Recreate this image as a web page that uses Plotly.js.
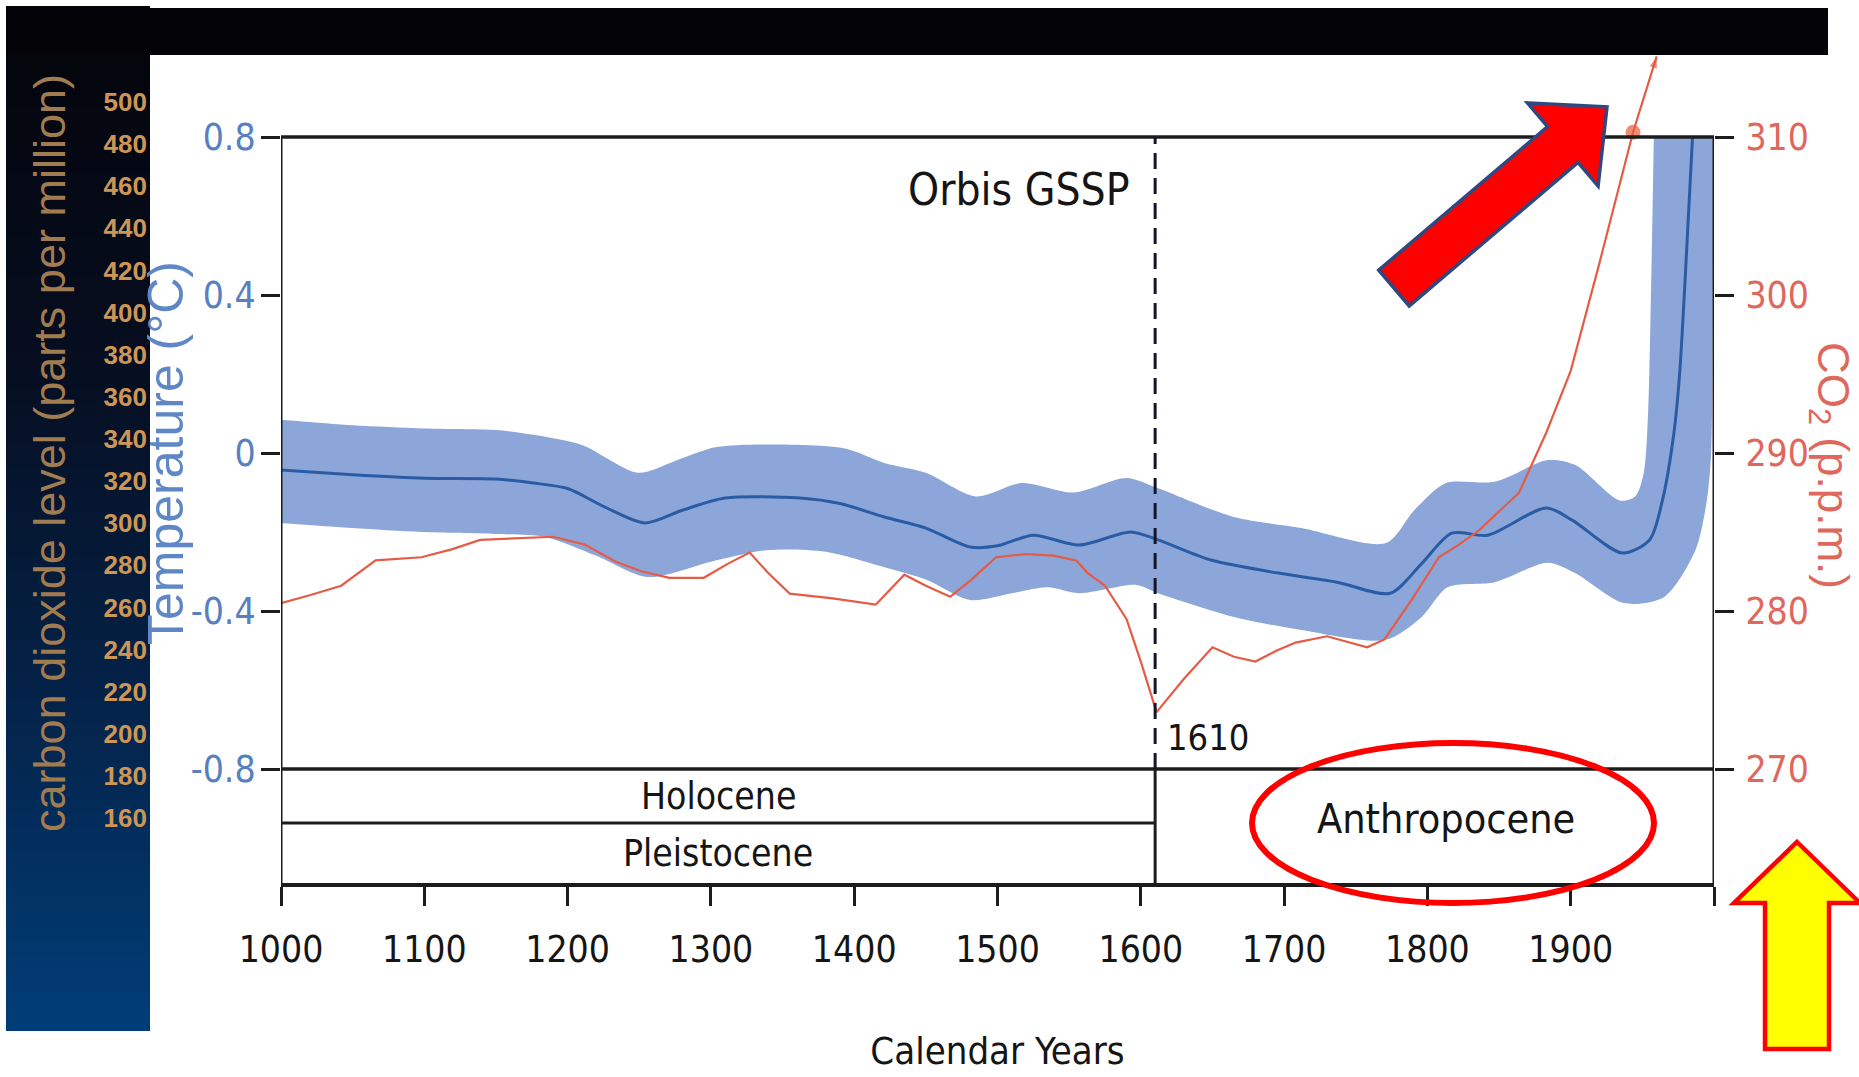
<!DOCTYPE html>
<html>
<head>
<meta charset="utf-8">
<script src="https://cdn.plot.ly/plotly-3.0.1.min.js"></script>
<style>
  html, body { margin: 0; padding: 0; background: #ffffff; }
  #chart { width: 1859px; height: 1077px; }
</style>
</head>
<body>
<div id="chart"></div>
<script>
// ---------------- DATA ----------------
// Temperature anomaly, central estimate (°C)
const tempYears = [1000, 1050, 1100, 1150, 1176, 1200, 1225, 1254, 1280, 1310, 1362, 1390, 1421, 1450, 1481, 1500, 1525, 1557, 1593, 1612, 1649, 1696, 1737, 1774, 1796, 1817, 1842, 1883, 1901, 1936, 1955, 1964, 1972, 1976, 1980, 1985];
const tempMid   = [-0.043, -0.055, -0.064, -0.066, -0.076, -0.09, -0.135, -0.177, -0.145, -0.114, -0.114, -0.128, -0.162, -0.19, -0.238, -0.235, -0.208, -0.233, -0.2, -0.22, -0.271, -0.304, -0.327, -0.355, -0.28, -0.203, -0.208, -0.139, -0.17, -0.253, -0.22, -0.12, 0.05, 0.2, 0.45, 0.8];

// Uncertainty band, upper edge (°C)
const bandUpYears = [1000, 1050, 1100, 1150, 1176, 1210, 1249, 1275, 1304, 1365, 1395, 1421, 1450, 1485, 1517, 1553, 1590, 1612, 1665, 1712, 1771, 1791, 1813, 1847, 1884, 1903, 1934, 1945, 1951, 1954, 1956, 1958];
const bandUp      = [0.084, 0.07, 0.062, 0.058, 0.046, 0.02, -0.05, -0.02, 0.015, 0.02, 0.01, -0.025, -0.05, -0.11, -0.076, -0.1, -0.063, -0.089, -0.162, -0.19, -0.228, -0.144, -0.076, -0.073, -0.018, -0.03, -0.12, -0.11, -0.05, 0.1, 0.4, 0.8];

// Uncertainty band, lower edge (°C)
const bandLoYears = [1000, 1050, 1098, 1150, 1185, 1220, 1256, 1300, 1339, 1380, 1421, 1450, 1481, 1510, 1535, 1557, 1597, 1612, 1665, 1712, 1771, 1796, 1814, 1847, 1884, 1903, 1937, 1965, 1987, 1995, 1998, 1999, 1999.5];
const bandLo      = [-0.177, -0.19, -0.2, -0.205, -0.213, -0.26, -0.314, -0.275, -0.246, -0.25, -0.289, -0.32, -0.372, -0.355, -0.34, -0.355, -0.334, -0.355, -0.415, -0.448, -0.473, -0.415, -0.34, -0.327, -0.278, -0.304, -0.38, -0.365, -0.246, -0.12, 0.0, 0.3, 0.8];

// Atmospheric CO2 (p.p.m.)
const co2Years = [1000, 1020, 1042, 1066, 1098, 1119, 1139, 1165, 1190, 1212, 1234, 1252, 1271, 1295, 1312, 1327, 1340, 1355, 1385, 1415, 1435, 1450, 1467, 1482, 1499, 1520, 1539, 1555, 1563, 1575, 1590, 1600, 1611, 1630, 1650, 1665, 1680, 1695, 1708, 1730, 1745, 1758, 1770, 1789, 1808, 1822, 1836, 1850, 1864, 1883, 1900, 1920, 1943.5, 1960];
const co2Vals  = [280.5, 281.0, 281.6, 283.2, 283.4, 283.9, 284.5, 284.6, 284.7, 284.2, 283.1, 282.5, 282.1, 282.1, 283.0, 283.7, 282.4, 281.1, 280.8, 280.4, 282.3, 281.6, 280.9, 282.0, 283.4, 283.6, 283.5, 283.2, 282.4, 281.6, 279.5, 276.8, 273.6, 275.7, 277.7, 277.1, 276.8, 277.5, 278.0, 278.4, 278.0, 277.7, 278.2, 280.7, 283.4, 284.2, 285.1, 286.3, 287.5, 291.3, 295.2, 302.0, 310.3, 315.1];
const co2DotYear = 1943.5;

// Ticks and labels
const xTickVals  = [1000, 1100, 1200, 1300, 1400, 1500, 1600, 1700, 1800, 1900, 2000];
const xTickText  = ['1000', '1100', '1200', '1300', '1400', '1500', '1600', '1700', '1800', '1900', ' '];
const tempTicks  = [-0.8, -0.4, 0, 0.4, 0.8];
const tempLabels = ['-0.8', '-0.4', '0', '0.4', '0.8'];
const co2Ticks   = [270, 280, 290, 300, 310];
const panelTicks = [160, 180, 200, 220, 240, 260, 280, 300, 320, 340, 360, 380, 400, 420, 440, 460, 480, 500];

// Period boundaries
const gsspYear = 1610;
const startYear = 1000, endYear = 2000;

// ---------------- LAYOUT GEOMETRY (pixels) ----------------
const W = 1859, H = 1077;
const P = { left: 281, right: 1714, top: 23, bottom: 883, y08: 137, ym08: 769 };
const tempAt = py => 0.8 - (py - P.y08) * 1.6 / (P.ym08 - P.y08);
const co2FromTemp = t => 290 + 25 * t;
const yRange = [tempAt(P.bottom), tempAt(P.top)];
const y2Range = yRange.map(co2FromTemp);
const panelAt = py => 500 - (py - 102) * 340 / (818 - 102);
const y3Range = [panelAt(P.bottom), panelAt(P.top)];
const fx = x => x / W;
const fy = y => 1 - y / H;

const dividerY = tempAt(823);
const bottomY = yRange[0];

const NARROW = '"DejaVu Sans Condensed", "Liberation Sans Narrow", sans-serif';
const REG = '"Liberation Sans", Arial, Helvetica, sans-serif';

// ---------------- TRACES ----------------
const bandColor = 'rgb(140,166,217)';
const traces = [
  { x: bandLoYears, y: bandLo, mode: 'lines', line: { width: 0, shape: 'spline', smoothing: 0.8 },
    hoverinfo: 'skip', showlegend: false, xaxis: 'x', yaxis: 'y' },
  { x: bandUpYears, y: bandUp, mode: 'lines', fill: 'tonexty', fillcolor: bandColor,
    line: { width: 0, shape: 'spline', smoothing: 0.8 }, hoverinfo: 'skip', showlegend: false, xaxis: 'x', yaxis: 'y' },
  { x: tempYears, y: tempMid, mode: 'lines', name: 'Temperature',
    line: { color: 'rgb(42,92,165)', width: 3, shape: 'spline', smoothing: 0.8 }, showlegend: false, xaxis: 'x', yaxis: 'y' }
];

const dotIdx = co2Years.indexOf(co2DotYear);
const lastIdx = co2Years.length - 1;
traces.push({
  x: co2Years, y: co2Vals, mode: 'lines+markers', name: 'CO2', xaxis: 'x', yaxis: 'y2', showlegend: false,
  cliponaxis: false,
  line: { color: 'rgb(229,92,70)', width: 2.2 },
  marker: {
    color: 'rgb(232,92,60)',
    size: co2Years.map((_, i) => (i === dotIdx ? 15 : (i === lastIdx ? 12 : 0))),
    symbol: co2Years.map((_, i) => (i === lastIdx ? 'arrow' : 'circle')),
    angleref: 'previous',
    line: { width: 0 }
  }
});
// empty trace so that the scale of the left panel (yaxis3) is drawn
traces.push({ x: [], y: [], xaxis: 'x', yaxis: 'y3', mode: 'markers', showlegend: false, hoverinfo: 'skip' });

// ---------------- SHAPES ----------------
const shapes = [];
// left dark panel gradient (strips)
const stops = [[0, [4, 4, 10]], [0.35, [6, 14, 32]], [0.7, [4, 36, 76]], [1, [0, 62, 120]]];
function gradColor(t) {
  for (let i = 0; i < stops.length - 1; i++) {
    const [t0, c0] = stops[i], [t1, c1] = stops[i + 1];
    if (t >= t0 && t <= t1) {
      const u = (t - t0) / (t1 - t0);
      return 'rgb(' + c0.map((v, k) => Math.round(v + (c1[k] - v) * u)).join(',') + ')';
    }
  }
  return 'rgb(0,62,120)';
}
const panelTop = 6, panelBot = 1031, nStrips = 80;
for (let i = 0; i < nStrips; i++) {
  const y0 = panelTop + (panelBot - panelTop) * i / nStrips;
  const y1 = Math.min(panelTop + (panelBot - panelTop) * (i + 1) / nStrips + 2, panelBot);
  shapes.push({ type: 'rect', xref: 'paper', yref: 'paper', x0: fx(6), x1: fx(150), y0: fy(y0), y1: fy(y1),
    fillcolor: gradColor((i + 0.5) / nStrips), line: { width: 0 }, layer: 'below' });
}
// black top bar
shapes.push({ type: 'rect', xref: 'paper', yref: 'paper', x0: fx(6), x1: fx(1828), y0: fy(8), y1: fy(55),
  fillcolor: 'rgb(3,3,8)', line: { width: 0 }, layer: 'above' });

const boxLine = { color: '#1c1c1c', width: 3.5 };
shapes.push({ type: 'line', xref: 'x', yref: 'y', x0: startYear, x1: endYear, y0: 0.8, y1: 0.8, line: boxLine });
shapes.push({ type: 'line', xref: 'x', yref: 'y', x0: startYear, x1: endYear, y0: -0.8, y1: -0.8, line: boxLine });
shapes.push({ type: 'line', xref: 'x', yref: 'y', x0: startYear, x1: startYear, y0: bottomY, y1: 0.8, line: { color: '#1c1c1c', width: 3 } });
shapes.push({ type: 'line', xref: 'x', yref: 'y', x0: endYear, x1: endYear, y0: bottomY, y1: 0.8, line: { color: '#1c1c1c', width: 3 } });
shapes.push({ type: 'line', xref: 'x', yref: 'y', x0: startYear, x1: gsspYear, y0: dividerY, y1: dividerY, line: { color: '#1c1c1c', width: 3 } });
shapes.push({ type: 'line', xref: 'x', yref: 'y', x0: gsspYear, x1: gsspYear, y0: bottomY, y1: -0.8, line: { color: '#1c1c1c', width: 3 } });
shapes.push({ type: 'line', xref: 'x', yref: 'y', x0: gsspYear, x1: gsspYear, y0: -0.8, y1: 0.8, line: { color: '#15152a', width: 3, dash: '16px,9px' } });

// red ellipse round "Anthropocene"
shapes.push({ type: 'circle', xref: 'paper', yref: 'paper', x0: fx(1252), x1: fx(1654), y0: fy(903), y1: fy(743),
  line: { color: '#ff0000', width: 6 }, fillcolor: 'rgba(0,0,0,0)' });

// red block arrow (pointing up-right)
function blockArrow(tail, tip, shaftHalf, headHalf, headLen) {
  const dx = tip[0] - tail[0], dy = tip[1] - tail[1];
  const L = Math.hypot(dx, dy), d = [dx / L, dy / L], n = [-d[1], d[0]];
  const base = [tip[0] - d[0] * headLen, tip[1] - d[1] * headLen];
  const pts = [
    [tail[0] - n[0] * shaftHalf, tail[1] - n[1] * shaftHalf],
    [base[0] - n[0] * shaftHalf, base[1] - n[1] * shaftHalf],
    [base[0] - n[0] * headHalf, base[1] - n[1] * headHalf],
    tip,
    [base[0] + n[0] * headHalf, base[1] + n[1] * headHalf],
    [base[0] + n[0] * shaftHalf, base[1] + n[1] * shaftHalf],
    [tail[0] + n[0] * shaftHalf, tail[1] + n[1] * shaftHalf]
  ];
  return 'M' + pts.map(p => fx(p[0]).toFixed(5) + ',' + fy(p[1]).toFixed(5)).join(' L') + ' Z';
}
shapes.push({ type: 'path', xref: 'paper', yref: 'paper', path: blockArrow([1394, 288], [1607, 107], 23.5, 54.5, 58),
  fillcolor: '#ff0000', line: { color: 'rgb(47,72,128)', width: 3.5 } });

// yellow arrow (pointing up)
const ya = [[1797, 842], [1860, 903], [1829, 903], [1829, 1049], [1765, 1049], [1765, 903], [1734, 903]];
shapes.push({ type: 'path', xref: 'paper', yref: 'paper',
  path: 'M' + ya.map(p => fx(p[0]).toFixed(5) + ',' + fy(p[1]).toFixed(5)).join(' L') + ' Z',
  fillcolor: '#ffff00', line: { color: '#ff0000', width: 4.5 } });

// ---------------- ANNOTATIONS ----------------
const annotations = [
  { x: 1594, y: tempAt(190), xref: 'x', yref: 'y', text: 'Orbis GSSP', showarrow: false, xanchor: 'right', yanchor: 'middle',
    font: { family: NARROW, size: 44, color: '#151515' } },
  { x: gsspYear, y: tempAt(737), xref: 'x', yref: 'y', text: '1610', showarrow: false, xanchor: 'left', yanchor: 'middle', xshift: 10,
    font: { family: NARROW, size: 36, color: '#151515' } },
  { x: (startYear + gsspYear) / 2, y: tempAt(796), xref: 'x', yref: 'y', text: 'Holocene', showarrow: false,
    font: { family: NARROW, size: 37, color: '#151515' } },
  { x: (startYear + gsspYear) / 2, y: tempAt(853), xref: 'x', yref: 'y', text: 'Pleistocene', showarrow: false,
    font: { family: NARROW, size: 37, color: '#151515' } },
  { x: 1813, y: tempAt(819), xref: 'x', yref: 'y', text: 'Anthropocene', showarrow: false,
    font: { family: NARROW, size: 41, color: '#151515' } },
  { x: fx(166), y: fy(453), xref: 'paper', yref: 'paper', text: 'Temperature (°C)', showarrow: false, textangle: -90,
    xanchor: 'center', yanchor: 'middle',
    font: { family: REG, size: 50, color: 'rgb(95,135,198)' } },
  { x: fx(1830), y: fy(465), xref: 'paper', yref: 'paper', text: 'CO<sub>2</sub> (p.p.m.)', showarrow: false, textangle: 90,
    xanchor: 'center', yanchor: 'middle',
    font: { family: REG, size: 44, color: 'rgb(222,104,92)' } }
];

// ---------------- LAYOUT ----------------
const layout = {
  width: W, height: H,
  margin: { l: 0, r: 0, t: 0, b: 0, pad: 0 },
  paper_bgcolor: '#ffffff', plot_bgcolor: '#ffffff',
  showlegend: false,
  font: { family: NARROW, color: '#151515' },
  xaxis: {
    domain: [fx(P.left), fx(P.right)], range: [startYear, endYear],
    showgrid: false, zeroline: false, showline: true, linecolor: '#1c1c1c', linewidth: 3.5,
    tickmode: 'array', tickvals: xTickVals, ticktext: xTickText,
    ticks: 'outside', ticklen: 19, tickwidth: 2.5, tickcolor: '#1c1c1c', ticklabelstandoff: 12,
    tickfont: { family: NARROW, size: 37, color: '#151515' },
    title: { text: 'Calendar Years', font: { family: NARROW, size: 38, color: '#151515' }, standoff: 68 }
  },
  yaxis: {
    domain: [fy(P.bottom), fy(P.top)], range: yRange,
    showgrid: false, zeroline: false, showline: false,
    tickmode: 'array', tickvals: tempTicks, ticktext: tempLabels,
    ticks: 'outside', ticklen: 19, tickwidth: 3, tickcolor: '#1c1c1c', ticklabelstandoff: -2,
    tickfont: { family: NARROW, size: 37, color: 'rgb(88,128,190)' }
  },
  yaxis2: {
    overlaying: 'y', side: 'right', anchor: 'x', range: y2Range,
    showgrid: false, zeroline: false, showline: false,
    tickmode: 'array', tickvals: co2Ticks,
    ticks: 'outside', ticklen: 19, tickwidth: 3, tickcolor: '#1c1c1c', ticklabelstandoff: 4,
    tickfont: { family: NARROW, size: 37, color: 'rgb(222,104,92)' }
  },
  yaxis3: {
    overlaying: 'y', side: 'left', anchor: 'free', position: fx(147), range: y3Range,
    showgrid: false, zeroline: false, showline: false, ticks: '',
    tickmode: 'array', tickvals: panelTicks, ticklabelstandoff: 0,
    tickfont: { family: REG, size: 26, weight: 'bold', color: 'rgb(206,150,86)' },
    title: { text: 'carbon dioxide level (parts per million)', font: { family: REG, size: 45, color: 'rgb(160,124,80)' }, standoff: 22 }
  },
  shapes: shapes,
  annotations: annotations
};

Plotly.newPlot('chart', traces, layout, { displayModeBar: false, responsive: false });
</script>
</body>
</html>
